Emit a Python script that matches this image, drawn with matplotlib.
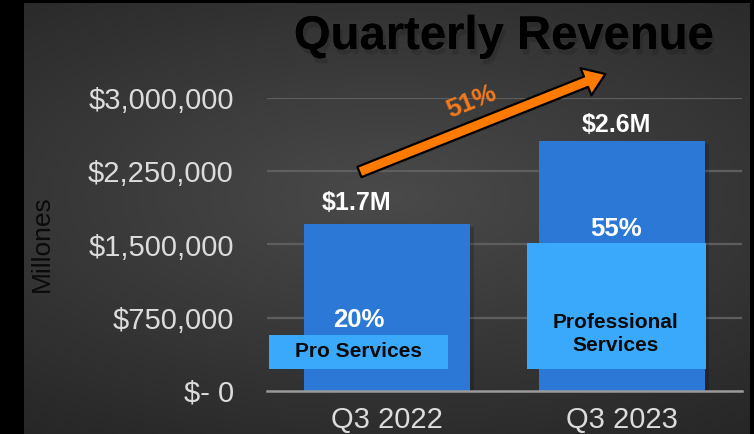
import numpy as np
import matplotlib
matplotlib.use("Agg")
import matplotlib.pyplot as plt
import matplotlib.patheffects as pe
from matplotlib.patches import FancyArrowPatch
from matplotlib.ticker import FixedLocator

# ---- data ----
quarters = ["Q3 2022", "Q3 2023"]
revenue = [1710000, 2555000]
revenue_labels = ["$1.7M", "$2.6M"]
services_share_labels = ["20%", "55%"]
services_box_names = ["Pro Services", "Professional\nServices"]
services_box_bottom = [225000, 230000]
services_box_top = [573000, 1515000]
growth_label = "51%"
y_ticks = [0, 750000, 1500000, 2250000, 3000000]
y_tick_labels = ["$- 0", "$750,000", "$1,500,000", "$2,250,000", "$3,000,000"]

FONT = ["Liberation Sans", "DejaVu Sans"]
plt.rcParams["font.family"] = FONT

W, H = 754, 434
fig = plt.figure(figsize=(W / 100, H / 100), dpi=100, facecolor="black")

# background radial gradient
bg = fig.add_axes([24 / W, 0, (750 - 24) / W, (H - 3) / H])
bg.set_axis_off()
yy, xx = np.mgrid[0:1:300j, 0:1:500j]
r = np.sqrt(((xx - 0.5) * 1.0) ** 2 + ((yy - 0.45) * 1.3) ** 2)
val = 0.29 - 0.16 * np.clip(r, 0, 1)
img = np.dstack([val, val, val])
bg.imshow(img, aspect="auto", extent=[0, 1, 0, 1], interpolation="bilinear")

ax = fig.add_axes([267 / W, (H - 391) / H, 475 / W, 293 / H])
ax.set_facecolor("none")
x = np.arange(len(quarters))
ax.set_xlim(-0.51, 1.51)
ax.set_ylim(0, 3000000)

for yv in y_ticks[1:]:
    ax.axhline(yv, color="#5e5e5e", lw=1.6, zorder=1)
ax.axhline(0, color="#9a9a9a", lw=1.8, zorder=4, clip_on=False)

bars = ax.bar(x, revenue, width=0.706, color="#2b78d6", zorder=2)
for b in bars:
    b.set_path_effects([pe.withSimplePatchShadow(offset=(3, -2), shadow_rgbFace="black", alpha=0.18), pe.Normal()])

box_offsets = [-0.121, -0.023]
box_w = 0.762
for i in range(len(quarters)):
    ax.bar(x[i] + box_offsets[i], services_box_top[i] - services_box_bottom[i],
           bottom=services_box_bottom[i], width=box_w, color="#3aa9fb", zorder=3)

# revenue labels
lab_dx = [-0.128, -0.026]
lab_y = [1925000, 2720000]
for i in range(len(quarters)):
    ax.text(x[i] + lab_dx[i], lab_y[i], revenue_labels[i], ha="center", va="center",
            color="white", fontsize=18, fontweight="bold", zorder=5)

pct_y = [727000, 1660000]
pct_dx = [-0.12, -0.026]
for i in range(len(quarters)):
    ax.text(x[i] + pct_dx[i], pct_y[i], services_share_labels[i], ha="center", va="center",
            color="white", fontsize=18.5, fontweight="bold", zorder=5)

name_y = [400000, 584000]
for i in range(len(quarters)):
    ax.text(x[i] + pct_dx[i], name_y[i], services_box_names[i], ha="center", va="center",
            color="#0a0a0a", fontsize=15, fontweight="bold", linespacing=1.25, zorder=5)

# growth arrow
arr = FancyArrowPatch((-0.128, 2232000), (0.94, 3256000),
                      arrowstyle="simple,head_width=21,head_length=15,tail_width=8",
                      mutation_scale=1, facecolor="#ff7a00", edgecolor="black",
                      lw=1.6, zorder=6, clip_on=False)
ax.add_patch(arr)
ax.text(0.36, 2960000, growth_label, ha="center", va="center", rotation=22,
        color="#f47a1c", fontsize=18.5, fontweight="bold", zorder=6)

# ticks
ax.yaxis.set_major_locator(FixedLocator(y_ticks))
ax.set_yticklabels(y_tick_labels)
ax.set_xticks(x)
ax.set_xticklabels(quarters)
ax.tick_params(axis="y", length=0, pad=24, labelsize=21, labelcolor="#dcdcdc")
ax.tick_params(axis="x", length=0, pad=11, labelsize=21, labelcolor="#dcdcdc")
for s in ax.spines.values():
    s.set_visible(False)

fig.text(42 / W, 1 - 244 / H, "Millones", rotation=90, ha="center", va="center",
         fontsize=19, color="#0a0a0a")

fig.text(504 / W, 1 - 37 / H, "Quarterly Revenue", ha="center", va="center",
         fontsize=34, fontweight="bold", color="black",
         path_effects=[pe.withSimplePatchShadow(offset=(2, -4), shadow_rgbFace="black", alpha=0.12), pe.Normal()])

fig.savefig("out.png", dpi=100, facecolor="black")
